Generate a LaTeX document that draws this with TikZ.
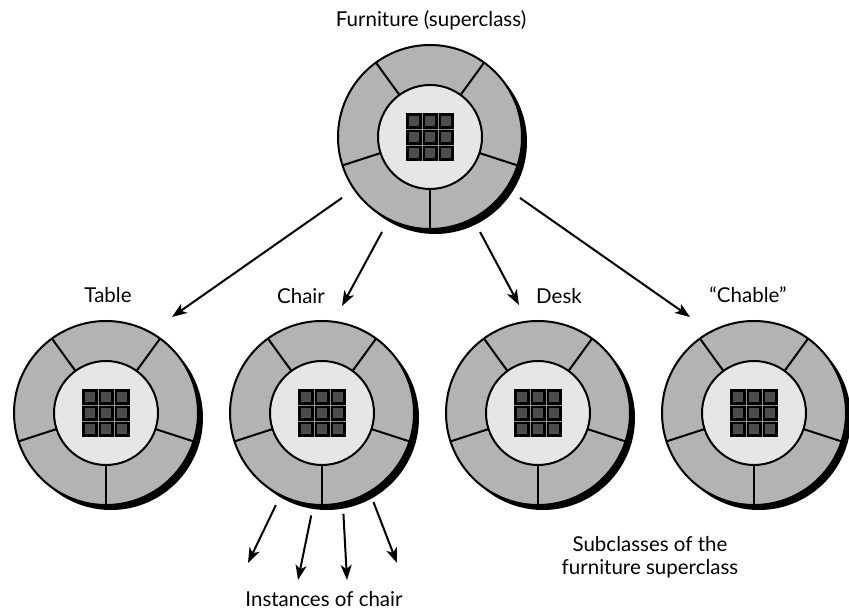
\documentclass[tikz,border=0pt]{standalone}
\usepackage{fontspec}
\setmainfont{Lato}
\usepackage{tikz}
\usetikzlibrary{arrows.meta}

\definecolor{ringgray}{HTML}{B3B3B3}
\definecolor{coregray}{HTML}{E6E6E6}
\definecolor{cellgray}{HTML}{4D4D4D}
\definecolor{sepgray}{HTML}{8C8C8C}

% one class: shadow, ring of five parts, core with 3x3 grid
\newcommand{\classobj}[2]{%
\begin{scope}[shift={#1}]
\fill[black] (5,-5) circle (92);
\filldraw[ringfill] (0,0) circle (92);
\foreach \ang in {54,126,198,270,342}
  \draw[ringline] (\ang:52) -- (\ang:92);
\filldraw[corefill] (0,0) circle (52);
\fill[black] (-24,-24) rectangle (24,24);
\foreach \i in {-16,0,16}
  \foreach \j in {-16,0,16}
    \fill[cellgray] (\i-5.3,\j-5.3) rectangle (\i+5.3,\j+5.3);
\draw[sepgray, line width=0.8pt] (-8,-24) -- (-8,24) (8,-24) -- (8,24) (-24,-8) -- (24,-8) (-24,8) -- (24,8);
\coordinate (#2) at (0,0);
\end{scope}}

\begin{document}
\begin{tikzpicture}[x=1pt, y=1pt,
  ringfill/.style={fill=ringgray, draw=black, line width=2pt},
  corefill/.style={fill=coregray, draw=black, line width=2pt},
  ringline/.style={black, line width=2pt},
  arr/.style={black, line width=2pt, -{Stealth[length=15pt, width=11pt, inset=4pt]}},
  lbl/.style={anchor=base, inner sep=0pt, font=\fontsize{20.5}{21}\selectfont}]
\useasboundingbox (0,0) rectangle (849,612);

\classobj{(430,475)}{furn}
\classobj{(106,199)}{table}
\classobj{(322,199)}{chair}
\classobj{(538,199)}{desk}
\classobj{(754,199)}{chable}

\path (431,585) node[lbl] (lblfurn) {Furniture (superclass)};
\path (108,309) node[lbl] (lbltable) {Table};
\path (301,308) node[lbl] (lblchair) {Chair};
\path (559,308) node[lbl] (lbldesk) {Desk};
\path (748,309) node[lbl] (lblchable) {“Chable”};
\path (650,37) node[lbl, align=center] (lblsub) {Subclasses of the\\[2pt]furniture superclass};
\path (324,5) node[lbl] (lblinst) {Instances of chair};

% superclass to subclasses
\draw[arr] ([shift={(214.7:107)}]furn) -- ([shift={(55.5:116.5)}]table);
\draw[arr] ([shift={(243.2:106.4)}]furn) -- ([shift={(79.4:108.9)}]chair);
\draw[arr] ([shift={(297.8:107.4)}]furn) -- ([shift={(100:109.7)}]desk);
\draw[arr] ([shift={(325.9:108.7)}]furn) -- ([shift={(123.7:115.4)}]chable);

% instances of chair
\coordinate (inst1) at (248,49);
\coordinate (inst2) at (298,32);
\coordinate (inst3) at (347,32);
\coordinate (inst4) at (397,49);
\draw[arr] ([shift={(243.4:103)}]chair) -- (inst1);
\draw[arr] ([shift={(264:103)}]chair) -- (inst2);
\draw[arr] ([shift={(282:103)}]chair) -- (inst3);
\draw[arr] ([shift={(300:103)}]chair) -- (inst4);
\end{tikzpicture}
\end{document}
